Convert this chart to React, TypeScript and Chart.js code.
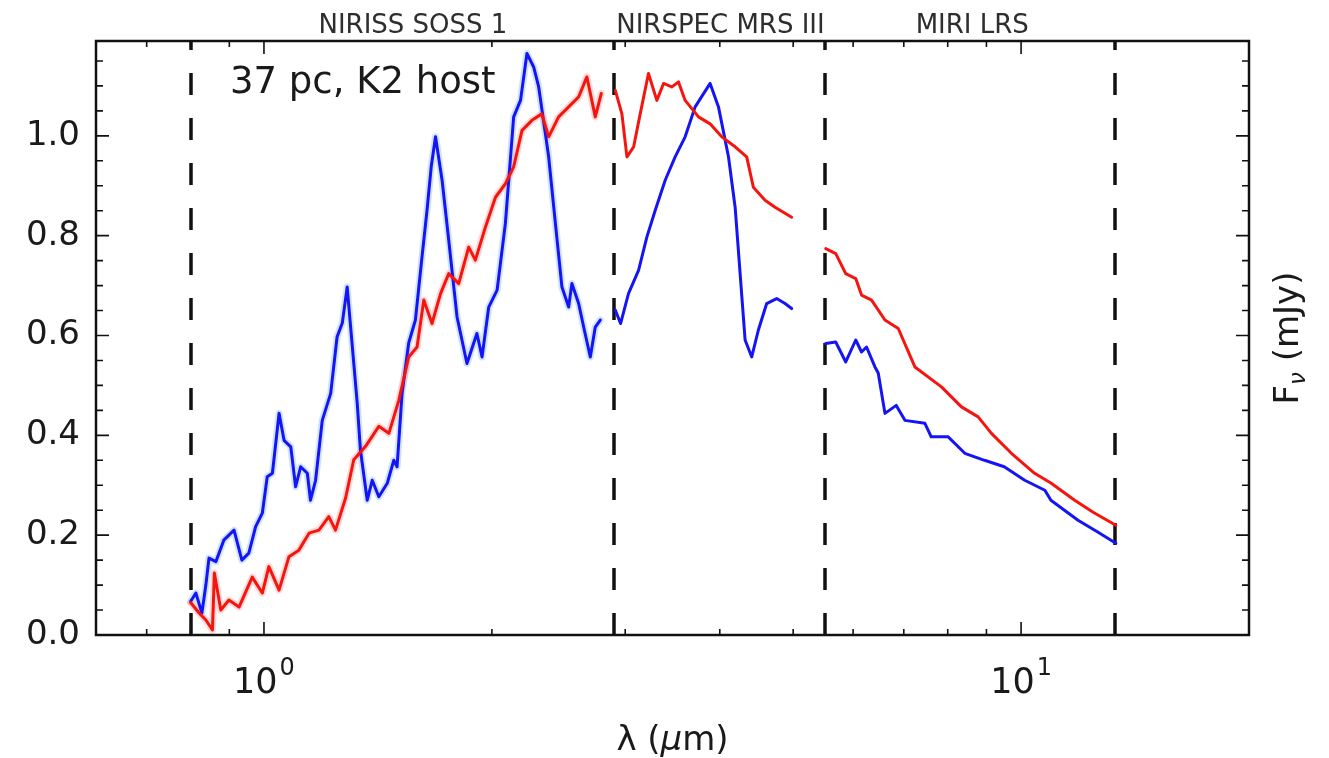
import React, { useEffect, useRef } from "react";
import { Chart, registerables } from "chart.js";

Chart.register(...registerables);

// Instrument band edges (µm) and band labels
const bandEdges = [0.8, 2.9, 5.5, 13.3];
const bandNames = ["NIRISS SOSS 1", "NIRSPEC MRS III", "MIRI LRS"];
const bandLabelWave = [1.573, 4.008, 8.62];

// Axis ticks
const yMajorTicks = [0, 0.2, 0.4, 0.6, 0.8, 1.0];
const yMinorTicks = [0.05, 0.1, 0.15, 0.25, 0.3, 0.35, 0.45, 0.5, 0.55, 0.65, 0.7, 0.75, 0.85, 0.9, 0.95, 1.05, 1.1, 1.15];
const xMajorTicks = [1, 10];
const xMajorExponents = ["0", "1"];
const xMinorTicks = [0.7, 0.8, 0.9, 2, 3, 4, 5, 6, 7, 8, 9];

// Blue spectrum
const blueNirissWave = [0.800, 0.813, 0.828, 0.838, 0.846, 0.864, 0.885, 0.913, 0.935, 0.955, 0.975, 0.995, 1.010, 1.026, 1.047, 1.063, 1.085, 1.101, 1.118, 1.141, 1.152, 1.170, 1.194, 1.225, 1.249, 1.269, 1.288, 1.307, 1.328, 1.341, 1.369, 1.390, 1.418, 1.455, 1.484, 1.499, 1.522, 1.553, 1.585, 1.617, 1.642, 1.663, 1.685, 1.719, 1.754, 1.799, 1.854, 1.911, 1.941, 1.981, 2.032, 2.084, 2.137, 2.182, 2.225, 2.271, 2.306, 2.353, 2.377, 2.426, 2.475, 2.526, 2.551, 2.604, 2.644, 2.698, 2.739, 2.781];
const blueNirissFlux = [0.067, 0.084, 0.044, 0.100, 0.154, 0.147, 0.190, 0.210, 0.150, 0.164, 0.217, 0.244, 0.317, 0.324, 0.444, 0.390, 0.377, 0.297, 0.337, 0.324, 0.270, 0.310, 0.430, 0.484, 0.597, 0.625, 0.697, 0.585, 0.464, 0.370, 0.270, 0.310, 0.277, 0.304, 0.350, 0.337, 0.484, 0.585, 0.631, 0.757, 0.851, 0.938, 0.998, 0.911, 0.791, 0.637, 0.544, 0.604, 0.557, 0.657, 0.691, 0.825, 1.038, 1.071, 1.165, 1.138, 1.098, 1.005, 0.958, 0.825, 0.697, 0.657, 0.704, 0.664, 0.617, 0.557, 0.617, 0.631];
const blueNirspecWave = [2.911, 2.958, 3.030, 3.125, 3.204, 3.287, 3.388, 3.492, 3.600, 3.711, 3.884, 3.984, 4.107, 4.191, 4.255, 4.320, 4.408, 4.498, 4.613, 4.755, 4.878, 4.977];
const blueNirspecFlux = [0.651, 0.624, 0.684, 0.731, 0.797, 0.851, 0.911, 0.958, 0.998, 1.058, 1.105, 1.058, 0.958, 0.857, 0.724, 0.591, 0.557, 0.611, 0.664, 0.674, 0.664, 0.654];
const blueMiriWave = [5.521, 5.691, 5.867, 6.048, 6.156, 6.250, 6.412, 6.476, 6.610, 6.841, 7.024, 7.464, 7.609, 8.011, 8.428, 8.948, 9.501, 10.11, 10.75, 10.95, 11.89, 12.64, 13.34];
const blueMiriFlux = [0.584, 0.587, 0.547, 0.591, 0.567, 0.577, 0.537, 0.525, 0.444, 0.460, 0.430, 0.424, 0.397, 0.397, 0.364, 0.350, 0.337, 0.310, 0.290, 0.270, 0.230, 0.206, 0.184];

// Red spectrum
const redNirissWave = [0.800, 0.821, 0.838, 0.855, 0.860, 0.877, 0.899, 0.927, 0.965, 0.995, 1.015, 1.047, 1.079, 1.112, 1.147, 1.182, 1.218, 1.243, 1.282, 1.314, 1.362, 1.418, 1.462, 1.507, 1.553, 1.593, 1.626, 1.667, 1.711, 1.754, 1.808, 1.864, 1.902, 1.961, 2.022, 2.084, 2.137, 2.192, 2.259, 2.328, 2.377, 2.450, 2.526, 2.604, 2.670, 2.739, 2.790];
const redNirissFlux = [0.065, 0.044, 0.030, 0.010, 0.124, 0.050, 0.070, 0.056, 0.116, 0.084, 0.137, 0.090, 0.157, 0.170, 0.204, 0.210, 0.237, 0.210, 0.275, 0.351, 0.378, 0.418, 0.404, 0.470, 0.557, 0.577, 0.671, 0.624, 0.684, 0.724, 0.704, 0.777, 0.751, 0.817, 0.877, 0.904, 0.938, 1.011, 1.031, 1.044, 0.998, 1.038, 1.058, 1.078, 1.118, 1.038, 1.085];
const redNirspecWave = [2.911, 2.970, 3.016, 3.078, 3.140, 3.220, 3.303, 3.371, 3.457, 3.528, 3.600, 3.749, 3.884, 4.024, 4.191, 4.341, 4.430, 4.590, 4.732, 4.977];
const redNirspecFlux = [1.091, 1.044, 0.958, 0.978, 1.044, 1.125, 1.071, 1.105, 1.098, 1.108, 1.071, 1.038, 1.024, 0.998, 0.978, 0.958, 0.897, 0.871, 0.857, 0.837];
const redMiriWave = [5.521, 5.691, 5.867, 6.048, 6.156, 6.346, 6.610, 6.883, 7.240, 7.849, 8.342, 8.776, 9.138, 9.710, 10.42, 10.96, 11.77, 12.45, 13.34];
const redMiriFlux = [0.774, 0.764, 0.724, 0.714, 0.681, 0.671, 0.631, 0.614, 0.537, 0.497, 0.457, 0.437, 0.404, 0.364, 0.324, 0.304, 0.270, 0.246, 0.220];

const FONT = '"DejaVu Sans"';
const BLUE = "#1414f5";
const RED = "#f5150f";
const BLUE_HALO = "rgba(110, 170, 255, 0.32)";
const RED_HALO = "rgba(255, 135, 135, 0.32)";
const Y_MAX = 1.19;

const toPoints = (xs: number[], ys: number[]) => xs.map((x, i) => ({ x, y: ys[i] }));

const line = (data: { x: number; y: number }[], color: string, width: number, order: number) => ({
  data,
  showLine: true,
  borderColor: color,
  backgroundColor: color,
  borderWidth: width,
  borderJoinStyle: "round" as const,
  borderCapStyle: "round" as const,
  pointRadius: 0,
  pointHoverRadius: 0,
  tension: 0,
  fill: false,
  order,
});

const decorPlugin = {
  id: "decor",
  beforeDatasetsDraw(chart: any) {
    const { ctx, chartArea: a, scales } = chart;
    const xs = scales.x;
    ctx.save();
    ctx.strokeStyle = "#111";
    ctx.lineWidth = 3.5;
    ctx.setLineDash([22, 23]);
    for (const w of bandEdges) {
      const px = Math.round(xs.getPixelForValue(w));
      ctx.beginPath();
      ctx.moveTo(px, a.bottom);
      ctx.lineTo(px, a.top);
      ctx.stroke();
    }
    ctx.restore();
  },
  afterDatasetsDraw(chart: any) {
    const { ctx, chartArea: a, scales } = chart;
    const xs = scales.x;
    const ys = scales.y;
    ctx.save();

    // Frame
    ctx.strokeStyle = "#111";
    ctx.lineWidth = 2.5;
    ctx.strokeRect(a.left, a.top, a.right - a.left, a.bottom - a.top);

    // Inward tick marks on all four sides
    ctx.lineWidth = 1.6;
    const yTick = (v: number, len: number) => {
      const py = ys.getPixelForValue(v);
      ctx.beginPath();
      ctx.moveTo(a.left, py);
      ctx.lineTo(a.left + len, py);
      ctx.moveTo(a.right, py);
      ctx.lineTo(a.right - len, py);
      ctx.stroke();
    };
    const xTick = (v: number, len: number) => {
      const px = xs.getPixelForValue(v);
      ctx.beginPath();
      ctx.moveTo(px, a.bottom);
      ctx.lineTo(px, a.bottom - len);
      ctx.moveTo(px, a.top);
      ctx.lineTo(px, a.top + len);
      ctx.stroke();
    };
    yMajorTicks.forEach((v) => yTick(v, 13));
    yMinorTicks.forEach((v) => yTick(v, 7));
    xMajorTicks.forEach((v) => xTick(v, 13));
    xMinorTicks.forEach((v) => xTick(v, 6));

    // Decade labels with superscript exponents
    ctx.fillStyle = "#1a1a1a";
    ctx.textBaseline = "alphabetic";
    ctx.textAlign = "left";
    xMajorTicks.forEach((v, i) => {
      const px = xs.getPixelForValue(v);
      ctx.font = `35px ${FONT}`;
      const wBase = ctx.measureText("10").width;
      ctx.font = `24px ${FONT}`;
      const wExp = ctx.measureText(xMajorExponents[i]).width;
      const x0 = px - (wBase + wExp + 2) / 2;
      ctx.font = `35px ${FONT}`;
      ctx.fillText("10", x0, a.bottom + 58);
      ctx.font = `24px ${FONT}`;
      ctx.fillText(xMajorExponents[i], x0 + wBase + 2, a.bottom + 40);
    });

    // x-axis title: λ (μm)
    const cx = (a.left + a.right) / 2;
    ctx.font = `34px ${FONT}`;
    const p1 = "λ (";
    const p3 = "m)";
    const w1 = ctx.measureText(p1).width;
    const w3 = ctx.measureText(p3).width;
    ctx.font = `oblique 34px ${FONT}`;
    const w2 = ctx.measureText("μ").width;
    let tx = cx - (w1 + w2 + w3) / 2;
    const ty = a.bottom + 115;
    ctx.font = `34px ${FONT}`;
    ctx.fillText(p1, tx, ty);
    tx += w1;
    ctx.font = `oblique 34px ${FONT}`;
    ctx.fillText("μ", tx, ty);
    tx += w2;
    ctx.font = `34px ${FONT}`;
    ctx.fillText(p3, tx, ty);

    // Right-side y title: F_ν (mJy), rotated
    ctx.save();
    ctx.translate(a.right + 49, (a.top + a.bottom) / 2);
    ctx.rotate(-Math.PI / 2);
    ctx.font = `34px ${FONT}`;
    const wF = ctx.measureText("F").width;
    const wRest = ctx.measureText(" (mJy)").width;
    ctx.font = `oblique 23px ${FONT}`;
    const wNu = ctx.measureText("ν").width;
    let rx = -(wF + wNu + wRest) / 2;
    ctx.font = `34px ${FONT}`;
    ctx.fillText("F", rx, 0);
    rx += wF;
    ctx.font = `oblique 23px ${FONT}`;
    ctx.fillText("ν", rx, 7);
    rx += wNu;
    ctx.font = `34px ${FONT}`;
    ctx.fillText(" (mJy)", rx, 0);
    ctx.restore();

    // Band names above the frame
    ctx.fillStyle = "#2e2e2e";
    ctx.font = `26px ${FONT}`;
    ctx.textAlign = "center";
    bandNames.forEach((name, i) => {
      ctx.fillText(name, xs.getPixelForValue(bandLabelWave[i]), a.top - 8);
    });

    // Annotation inside the plot
    ctx.fillStyle = "#1a1a1a";
    ctx.font = `37px ${FONT}`;
    ctx.textAlign = "left";
    ctx.fillText("37 pc, K2 host", a.left + 134, a.top + 52);

    ctx.restore();
  },
};

export default function App() {
  const ref = useRef<HTMLCanvasElement>(null);

  useEffect(() => {
    if (!ref.current) return;
    const chart = new Chart(ref.current, {
      type: "scatter",
      data: {
        datasets: [
          line(toPoints(blueNirissWave, blueNirissFlux), BLUE_HALO, 7, 20),
          line(toPoints(redNirissWave, redNirissFlux), RED_HALO, 7, 19),
          line(toPoints(blueNirissWave, blueNirissFlux), BLUE, 3, 10),
          line(toPoints(blueNirspecWave, blueNirspecFlux), BLUE, 3, 10),
          line(toPoints(blueMiriWave, blueMiriFlux), BLUE, 3, 10),
          line(toPoints(redNirissWave, redNirissFlux), RED, 3, 5),
          line(toPoints(redNirspecWave, redNirspecFlux), RED, 3, 5),
          line(toPoints(redMiriWave, redMiriFlux), RED, 3, 5),
        ],
      },
      options: {
        responsive: false,
        animation: false,
        devicePixelRatio: 1,
        layout: { padding: { top: 41, left: 0, right: 0, bottom: 0 } },
        plugins: {
          legend: { display: false },
          tooltip: { enabled: false },
        },
        events: [],
        scales: {
          x: {
            type: "logarithmic",
            min: 0.6,
            max: 20,
            grid: { display: false, drawTicks: false },
            border: { display: false },
            ticks: { display: false },
            afterFit: (scale: any) => {
              scale.height = 123;
            },
          },
          y: {
            type: "linear",
            position: "left",
            min: 0,
            max: Y_MAX,
            grid: { display: false, drawTicks: false },
            border: { display: false },
            ticks: {
              stepSize: 0.2,
              includeBounds: false,
              padding: 16,
              color: "#1a1a1a",
              font: { family: "DejaVu Sans", size: 34 },
              callback: (v: any) => Number(v).toFixed(1),
            },
            afterFit: (scale: any) => {
              scale.width = 96;
            },
          },
          y2: {
            type: "linear",
            position: "right",
            min: 0,
            max: Y_MAX,
            grid: { display: false, drawTicks: false },
            border: { display: false },
            ticks: { display: false },
            afterFit: (scale: any) => {
              scale.width = 80;
            },
          },
        },
      },
      plugins: [decorPlugin],
    });
    return () => chart.destroy();
  }, []);

  return (
    <div style={{ position: "fixed", left: 0, top: 0, width: 1329, height: 758, background: "#fff" }}>
      <canvas ref={ref} width={1329} height={758} style={{ display: "block", width: 1329, height: 758 }} />
    </div>
  );
}
